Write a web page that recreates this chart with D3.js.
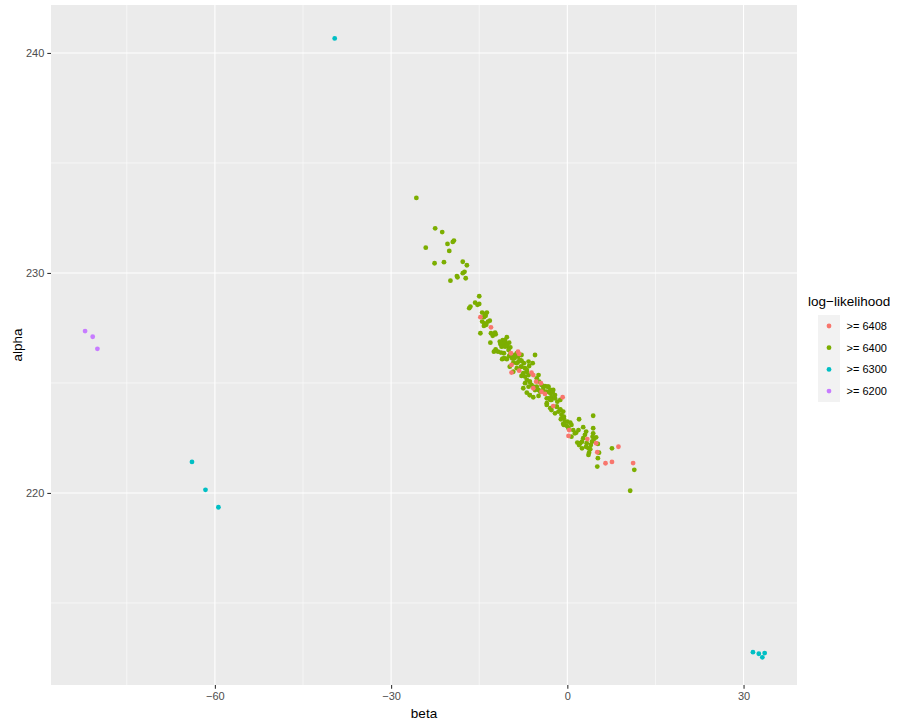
<!DOCTYPE html>
<html>
<head>
<meta charset="utf-8">
<script src="https://cdn.jsdelivr.net/npm/d3@7"></script>
<style>
  body { margin: 0; background: #fff; }
  text { font-family: "Liberation Sans", Arial, sans-serif; }
</style>
</head>
<body>
<div id="chart"></div>
<script>
// [beta, alpha] per log-likelihood group
var ll6408 = [
  [-14.8,227.99],[-13.0,227.53],[-8.4,226.42],[-8.2,226.32],[-9.6,226.35],[-9.5,225.82],
  [-8.2,225.56],[-6.1,225.47],[-5.8,225.36],[-9.5,225.47],[-5.3,225.06],[-4.5,224.99],
  [-5.8,224.76],[-3.8,224.5],[-4.4,224.6],[-0.8,224.35],[-2.4,223.95],[0.3,222.86],
  [0.2,222.59],[3.4,222.45],[4.9,222.26],[5.1,221.85],[8.7,222.1],[6.5,221.35],
  [7.6,221.41],[11.2,221.36]
];
var ll6400 = [
  [-25.7,233.41],[-22.5,232.03],[-21.3,231.86],[-24.1,231.15],[-20.4,231.32],[-19.5,231.41],
  [-19.3,231.47],[-20.1,231.0],[-22.6,230.44],[-21.0,230.49],[-17.8,230.51],[-17.1,230.35],
  [-17.5,230.05],[-17.8,229.99],[-18.8,229.86],[-18.7,229.80],[-17.3,229.76],[-19.9,229.65],
  [-15.0,228.94],[-16.5,228.47],[-16.7,228.40],[-15.7,228.65],[-15.3,228.55],[-15.0,228.59],
  [-14.5,228.2],[-14.0,228.14],[-13.7,228.2],[-14.2,227.99],[-13.9,228.05],[-14.5,227.79],
  [-14.1,227.71],[-13.8,227.64],[-13.5,227.79],[-13.2,227.83],[-14.2,227.59],[-14.8,227.26],
  [-13.0,227.26],[-12.7,227.14],[-12.3,227.29],[-12.2,227.21],[-13.1,226.83],[-11.4,226.77],
  [-11.1,226.68],[-10.6,226.95],[-10.3,227.08],[-11.0,226.95],[-12.2,226.53],[-12.5,226.42],
  [-11.8,226.42],[-10.4,226.8],[-10.2,226.68],[-9.7,226.62],[-10.0,226.5],[-11.3,226.38],
  [-10.8,226.35],[-9.7,226.32],[-8.9,226.27],[-8.4,226.2],[-7.8,226.27],[-10.6,226.12],
  [-11.1,226.08],[-9.4,226.12],[-9.0,226.12],[-5.5,226.27],[-10.9,226.8],[-10.3,226.73],
  [-9.9,226.83],[-11.2,226.65],[-8.6,226.35],[-9.4,226.27],[-9.1,226.2],[-9.9,226.23],
  [-10.9,226.12],[-10.3,226.08],[-9.2,225.92],[-8.3,225.97],[-7.8,226.01],[-7.4,225.9],
  [-8.6,225.67],[-7.9,225.74],[-7.2,225.67],[-6.5,225.77],[-5.9,225.9],[-6.9,225.51],
  [-6.6,225.36],[-7.5,225.44],[-7.8,225.32],[-4.9,225.36],[-5.2,225.21],[-4.8,225.06],
  [-6.9,225.14],[-6.4,225.06],[-7.2,224.99],[-6.6,224.83],[-6.1,224.91],[-5.5,224.68],
  [-5.2,224.83],[-4.1,224.83],[-4.6,224.6],[-3.2,224.83],[-2.9,224.68],[-2.4,224.68],
  [-2.1,224.45],[-6.9,224.56],[-6.4,224.45],[-5.8,224.35],[-4.9,224.41],[-3.5,224.3],
  [-2.7,224.35],[-4.4,224.91],[-3.8,224.86],[-3.4,224.83],[-4.1,224.68],[-3.5,224.6],
  [-2.9,224.53],[-2.5,224.56],[-3.2,224.3],[-2.7,224.23],[-2.1,224.3],[-1.7,224.15],
  [-1.2,224.23],[-3.5,224.0],[-2.9,223.85],[-1.8,223.92],[-1.2,223.8],[-1.5,223.7],
  [-0.7,223.7],[-1.0,223.55],[-0.6,223.47],[-1.1,223.35],[-0.4,223.24],[-0.7,223.14],
  [-0.1,223.05],[0.2,222.94],[1.0,222.86],[1.3,222.71],[1.9,222.86],[-0.6,223.4],
  [0.0,223.24],[-0.6,223.09],[4.4,223.51],[2.0,223.35],[0.5,223.2],[0.7,223.09],
  [2.7,222.99],[4.4,222.94],[1.5,222.74],[0.7,222.56],[3.2,222.79],[3.0,222.64],
  [2.7,222.49],[2.5,222.33],[2.2,222.26],[2.5,222.03],[4.4,222.71],[4.3,222.56],
  [4.5,222.44],[4.2,222.33],[4.0,222.18],[3.9,221.99],[3.7,221.83],[3.6,221.73],
  [4.9,222.53],[5.2,222.23],[5.4,221.83],[3.3,222.26],[3.2,222.1],[3.6,222.03],
  [7.6,222.03],[5.2,221.58],[5.1,221.2],[11.4,221.05],[10.7,220.1],[1.7,222.29],
  [2.0,222.18],[-11.5,226.88],[-10.6,226.65],[-9.2,226.12],[-8.6,225.9],[-7.8,225.74],
  [-6.9,225.59],[-7.2,225.29],[-6.4,225.06],[-5.8,224.83],[-4.9,224.68],[-3.8,224.53],
  [-2.9,224.23],[-1.8,223.92],[-2.1,223.62],[-1.2,223.77],[-8.1,226.05],[-6.6,225.97],
  [-9.8,225.74],[-9.2,225.51],[-7.5,224.76],[-6.4,224.45],[-3.5,224.08],[-2.7,223.77]
];
var ll6300 = [
  [-39.6,240.66],[-63.9,221.41],[-61.6,220.14],[-59.4,219.35],
  [31.6,212.76],[32.6,212.69],[33.2,212.53],[33.6,212.72]
];
var ll6200 = [[-82.1,227.36],[-80.8,227.1],[-80.0,226.55]];

var groupLabels = [">= 6408", ">= 6400", ">= 6300", ">= 6200"];
var groupColors = ["#F8766D", "#7CAE00", "#00BFC4", "#C77CFF"];
var xTicks = [-60, -30, 0, 30];
var xMinor = [-75, -45, -15, 15];
var yTicks = [220, 230, 240];
var yMinor = [215, 225, 235];
var xLimits = [-87.9, 39.1];
var yLimits = [211.27, 242.18];

var W = 906, H = 725;
var panel = { left: 51, right: 797, top: 5, bottom: 685 };

var groups = [ll6408, ll6400, ll6300, ll6200];

var x = d3.scaleLinear()
  .domain(xLimits)
  .range([panel.left, panel.right]);
var y = d3.scaleLinear()
  .domain(yLimits)
  .range([panel.bottom, panel.top]);

var svg = d3.select('#chart').append('svg')
  .attr('width', W)
  .attr('height', H);

svg.append('rect')
  .attr('x', panel.left).attr('y', panel.top)
  .attr('width', panel.right - panel.left)
  .attr('height', panel.bottom - panel.top)
  .attr('fill', '#EBEBEB');

var grid = svg.append('g');
grid.selectAll('.vminor').data(xMinor).enter().append('line')
  .attr('x1', x).attr('x2', x)
  .attr('y1', panel.top).attr('y2', panel.bottom)
  .attr('stroke', '#fff').attr('stroke-width', 0.55);
grid.selectAll('.hminor').data(yMinor).enter().append('line')
  .attr('y1', y).attr('y2', y)
  .attr('x1', panel.left).attr('x2', panel.right)
  .attr('stroke', '#fff').attr('stroke-width', 0.55);
grid.selectAll('.vmajor').data(xTicks).enter().append('line')
  .attr('x1', x).attr('x2', x)
  .attr('y1', panel.top).attr('y2', panel.bottom)
  .attr('stroke', '#fff').attr('stroke-width', 1.1);
grid.selectAll('.hmajor').data(yTicks).enter().append('line')
  .attr('y1', y).attr('y2', y)
  .attr('x1', panel.left).attr('x2', panel.right)
  .attr('stroke', '#fff').attr('stroke-width', 1.1);

// points, drawn by group (lowest group first)
var order = [3, 2, 1, 0];
order.forEach(function(gi) {
  svg.append('g').selectAll('circle')
    .data(groups[gi]).enter().append('circle')
    .attr('cx', function(d) { return x(d[0]); })
    .attr('cy', function(d) { return y(d[1]); })
    .attr('r', 2.4)
    .attr('fill', groupColors[gi]);
});

// axes
var xAxis = svg.append('g')
  .attr('transform', 'translate(0,' + panel.bottom + ')')
  .call(d3.axisBottom(x).tickValues(xTicks).tickSize(3.7).tickPadding(3));
var yAxis = svg.append('g')
  .attr('transform', 'translate(' + panel.left + ',0)')
  .call(d3.axisLeft(y).tickValues(yTicks).tickSize(3.7).tickPadding(3));
[xAxis, yAxis].forEach(function(a) {
  a.select('.domain').remove();
  a.selectAll('.tick line').attr('stroke', '#333333').attr('stroke-width', 1.1);
  a.selectAll('.tick text')
    .attr('fill', '#4D4D4D')
    .style('font-size', '11px')
    .style('font-family', '"Liberation Sans", Arial, sans-serif');
});

svg.append('text')
  .attr('x', (panel.left + panel.right) / 2)
  .attr('y', 718)
  .attr('text-anchor', 'middle')
  .style('font-size', '13.5px')
  .text('beta');
svg.append('text')
  .attr('transform', 'translate(22,' + (panel.top + panel.bottom) / 2 + ') rotate(-90)')
  .attr('text-anchor', 'middle')
  .style('font-size', '13.5px')
  .text('alpha');

// legend
var legend = svg.append('g').attr('transform', 'translate(808,0)');
legend.append('text')
  .attr('x', 0).attr('y', 306)
  .style('font-size', '13.5px')
  .text('log\u2212likelihood');
legend.append('rect')
  .attr('x', 10).attr('y', 315)
  .attr('width', 22).attr('height', 87)
  .attr('fill', '#F2F2F2');
var keys = legend.selectAll('.key').data(groupLabels).enter().append('g')
  .attr('transform', function(d, i) { return 'translate(0,' + (326 + i * 21.7) + ')'; });
keys.append('circle')
  .attr('cx', 21).attr('cy', 0).attr('r', 2.4)
  .attr('fill', function(d, i) { return groupColors[i]; });
keys.append('text')
  .attr('x', 38.5).attr('y', 4)
  .style('font-size', '11px')
  .text(function(d) { return d; });
</script>
</body>
</html>
